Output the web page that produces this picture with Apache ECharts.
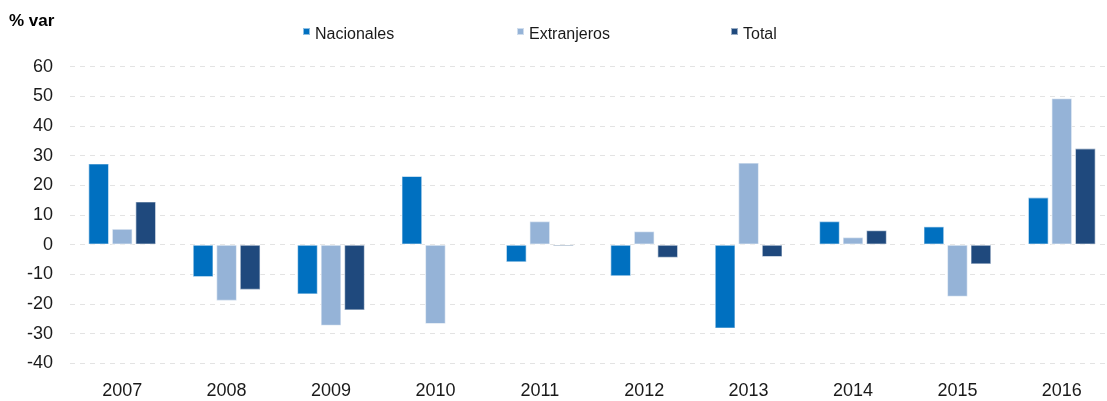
<!DOCTYPE html>
<html>
<head>
<meta charset="utf-8">
<script src="https://cdn.jsdelivr.net/npm/echarts@6/dist/echarts.min.js"></script>
<style>
html,body{margin:0;padding:0;background:#fff;overflow:hidden;width:1107px;height:401px;}
#chart{width:1114px;height:401px;}
</style>
</head>
<body>
<div id="chart"></div>
<script>
const years = ['2007','2008','2009','2010','2011','2012','2013','2014','2015','2016'];
const nacionales = [27.4, -11.0, -16.8, 23.2, -6.0, -10.7, -28.3, 8.0, 6.2, 16.0];
const extranjeros = [5.4, -19.0, -27.4, -26.8, 8.0, 4.6, 27.7, 2.6, -17.6, 49.4];
const total = [14.6, -15.3, -22.2, null, -0.6, -4.5, -4.2, 4.9, -6.7, 32.5];
const seriesNames = ['Nacionales', 'Extranjeros', 'Total'];
const colors = ['#0070C0', '#95B3D7', '#1F497D'];

const chart = echarts.init(document.getElementById('chart'), null, {renderer: 'canvas'});
const iconPath = 'path://M0,0h7v7h-7zM0,14h7v0.01h-7z';
const legendX = [302, 516, 730];
const dataArr = [nacionales, extranjeros, total];

chart.setOption({
  animation: false,
  title: {
    text: '% var',
    left: 9, top: 13, padding: 0,
    textStyle: {fontFamily: 'Liberation Sans', fontSize: 17, fontWeight: 'bold', color: '#000'}
  },
  legend: seriesNames.map((n, i) => ({
    data: [n],
    left: legendX[i], top: 27, padding: 0,
    icon: iconPath,
    itemWidth: 7, itemHeight: 14,
    itemGap: 6,
    textStyle: {fontFamily: 'Liberation Sans Narrow, Liberation Sans', fontSize: 16, color: '#1a1a1a'}
  })),
  grid: {left: 70, top: 66.7, bottom: 37.7, right: 0, containLabel: false},
  xAxis: {
    type: 'category',
    data: years,
    axisLine: {show: false},
    axisTick: {show: false},
    axisLabel: {fontFamily: 'Liberation Sans', fontSize: 18, color: '#1a1a1a', margin: 19}
  },
  yAxis: {
    type: 'value',
    min: -40, max: 60, interval: 10,
    axisLine: {show: false},
    axisTick: {show: false},
    axisLabel: {fontFamily: 'Liberation Sans', fontSize: 18, color: '#1a1a1a', margin: 17},
    splitLine: {show: true, lineStyle: {color: '#E3E3E3', type: [5, 5], width: 1}}
  },
  series: seriesNames.map((n, i) => ({
    name: n,
    type: 'bar',
    data: dataArr[i],
    barWidth: 21,
    barGap: '12%',
    itemStyle: {color: colors[i], borderColor: 'rgba(255,255,255,0.55)', borderWidth: 1.2}
  }))
});
</script>
</body>
</html>
